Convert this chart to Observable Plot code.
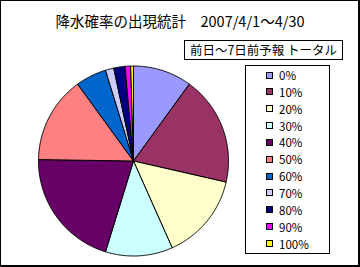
<!DOCTYPE html>
<html><head><meta charset="utf-8">
<script src="https://cdn.jsdelivr.net/npm/d3@7"></script>
<script src="https://cdn.jsdelivr.net/npm/@observablehq/plot@0.6"></script>
<style>
body{margin:0;background:#fff;}
#chart{position:relative;width:360px;height:267px;font-family:"Noto Sans CJK JP","Noto Sans",sans-serif;overflow:hidden;background:#fff;}
#chart svg{position:absolute;left:0;top:0;}
#frame{position:absolute;left:0;top:0;width:360px;height:267px;box-sizing:border-box;border:1px solid #000;border-right-width:2px;border-bottom-width:2px;pointer-events:none;}
#title{position:absolute;left:0;width:360px;top:12px;text-align:center;font-size:14.5px;line-height:18px;white-space:pre;}
#sub{position:absolute;left:184px;top:40px;width:159px;height:20px;box-sizing:border-box;border:1px solid #000;font-size:12.5px;line-height:18px;text-align:center;white-space:pre;}
#legend{position:absolute;left:245px;top:65px;width:85px;height:189px;box-sizing:border-box;border:1px solid #000;}
.item{position:absolute;left:20px;height:14px;font-size:11.5px;line-height:14px;white-space:nowrap;}
.sw{position:absolute;left:0;top:3.5px;width:7px;height:7px;box-sizing:border-box;border:1px solid #000;}
.lb{position:absolute;left:13px;top:0;}
</style></head>
<body>
<div id="chart">
  <div id="title"></div>
  <div id="sub"></div>
  <div id="legend"></div>
  <div id="frame"></div>
</div>
<script>
const titleText = "降水確率の出現統計　2007/4/1～4/30";
const subtitleText = "前日～7日前予報 トータル";
const categories = ["0%","10%","20%","30%","40%","50%","60%","70%","80%","90%","100%"];
const counts = [21, 39, 31, 24, 43, 31, 11, 3, 4, 2, 1];
const colors = ["#9999FF","#993366","#FFFFCC","#CCFFFF","#660066","#FF8080","#0066CC","#CCCCFF","#000080","#FF00FF","#FFFF00"];

document.getElementById("title").textContent = titleText;
document.getElementById("sub").textContent = subtitleText;

const rows = categories.map((c, i) => ({cat: c, count: counts[i]}));
const arcs = d3.pie().sort(null).value(d => d.count)(rows);
const pts = [];
for (const a of arcs) {
  const cat = a.data.cat;
  pts.push({cat, x: 0, y: 0});
  const n = Math.max(2, Math.ceil((a.endAngle - a.startAngle) / (Math.PI / 360)));
  for (let k = 0; k <= n; k++) {
    const t = a.startAngle + (a.endAngle - a.startAngle) * k / n;
    pts.push({cat, x: Math.sin(t), y: Math.cos(t)});
  }
  pts.push({cat, x: 0, y: 0});
}

const svg = Plot.plot({
  width: 360, height: 267,
  marginLeft: 38, marginRight: 132, marginTop: 65.5, marginBottom: 11.5,
  x: {domain: [-1, 1], axis: null},
  y: {domain: [-1, 1], axis: null},
  color: {type: "ordinal", domain: categories, range: colors},
  style: {background: "transparent"},
  marks: [
    Plot.line(pts, {x: "x", y: "y", z: "cat", fill: "cat", stroke: "#000", strokeWidth: 1, strokeLinejoin: "miter"})
  ]
});
document.getElementById("chart").insertBefore(svg, document.getElementById("title"));

const leg = document.getElementById("legend");
categories.forEach((c, i) => {
  const it = document.createElement("div");
  it.className = "item";
  it.style.top = (2 + i * 16.85) + "px";
  const sw = document.createElement("div");
  sw.className = "sw";
  sw.style.background = colors[i];
  const lb = document.createElement("span");
  lb.className = "lb";
  lb.textContent = c;
  it.appendChild(sw); it.appendChild(lb);
  leg.appendChild(it);
});
</script>
</body></html>
